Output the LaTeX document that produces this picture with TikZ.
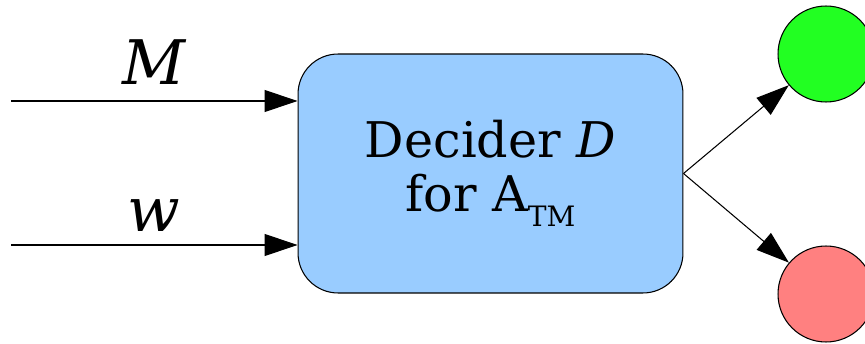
\documentclass[tikz,border=0pt]{standalone}
\usepackage{fontspec}
\setmainfont{DejaVu Serif}
\usetikzlibrary{positioning,arrows.meta}
\definecolor{deciderblue}{HTML}{99CCFF}
\definecolor{accgreen}{HTML}{22FF22}
\definecolor{rejred}{HTML}{FF8080}

\begin{document}
\begin{tikzpicture}[x=0.02cm, y=-0.02cm, line width=0.6pt, lbl/.style={inner sep=0pt, font=\fontsize{35}{40}\selectfont\itshape}, >={Triangle[length=0.66cm, width=0.44cm]}]
\tikzstyle{decider}=[draw, rounded corners=0.8cm, fill=deciderblue, minimum width=7.7cm, minimum height=4.78cm, align=center, font=\fontsize{28}{31}\selectfont]
\tikzstyle{res}=[circle, draw, inner sep=0pt, minimum size=1.92cm]
\useasboundingbox (0,0) rectangle (865,344);
\node[decider] (D) at (490.5,173.5) {Decider \textit{D}\\for A\raisebox{-8.5pt}{\fontsize{16}{16}\selectfont TM}};
\node[res, fill=accgreen] (acc) at (826,54) {};
\node[res, fill=rejred] (rej) at (826,294) {};
\foreach \i/\y/\k/\d in {1/101/M/9pt,2/245/w/7.4pt}{
  \coordinate (in\i) at (11,\y);
  \draw[->] (in\i) -- node[lbl, above=\d]{\k} (in\i -| D.west);
}
\foreach \j in {acc,rej}{\draw[->] (D.east) -- (\j);}
\end{tikzpicture}
\end{document}
